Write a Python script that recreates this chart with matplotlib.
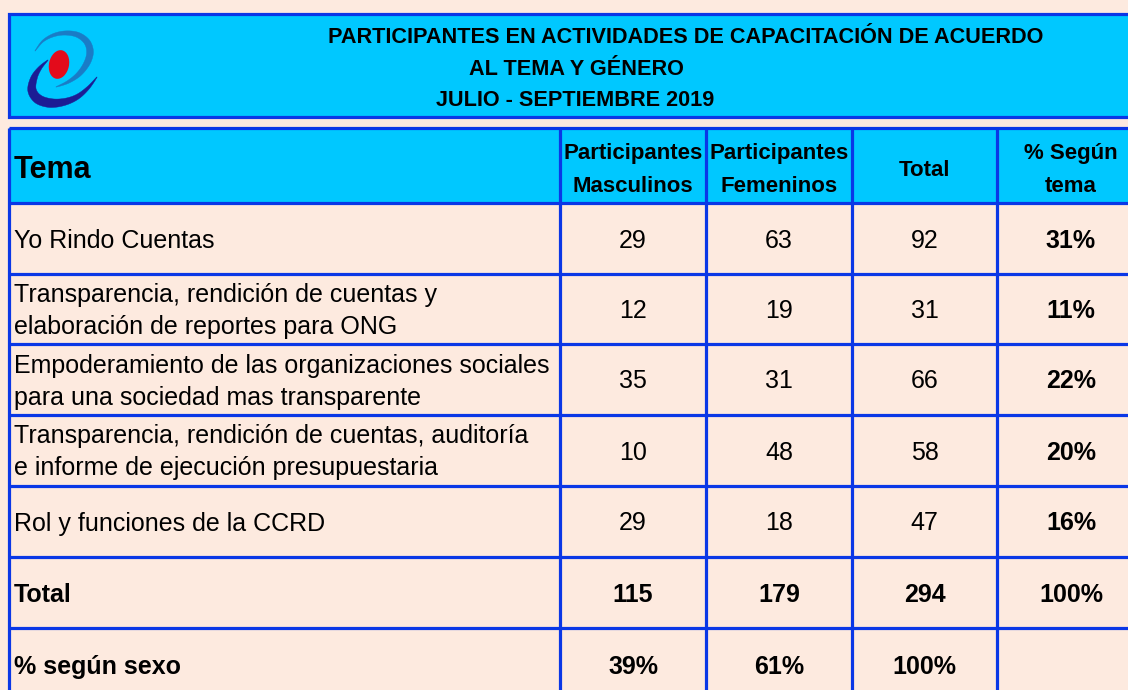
import numpy as np
import matplotlib
matplotlib.use("Agg")
import matplotlib.pyplot as plt
from matplotlib.patches import Rectangle, Polygon, Ellipse

# ---------------- data ----------------
title_lines = ["PARTICIPANTES EN ACTIVIDADES DE CAPACITACIÓN DE ACUERDO",
               "AL TEMA Y GÉNERO",
               "JULIO - SEPTIEMBRE 2019"]
header = ["Tema", "Participantes\nMasculinos", "Participantes\nFemeninos", "Total", "% Según\ntema"]
temas = ["Yo Rindo Cuentas",
         "Transparencia, rendición de cuentas y\nelaboración de reportes para ONG",
         "Empoderamiento de las organizaciones sociales\npara una sociedad mas transparente",
         "Transparencia, rendición de cuentas, auditoría\ne informe de ejecución presupuestaria",
         "Rol y funciones de la CCRD"]
masculinos = [29, 12, 35, 10, 29]
femeninos = [63, 19, 31, 48, 18]
totales = [92, 31, 66, 58, 47]
pct_tema = ["31%", "11%", "22%", "20%", "16%"]
total_label = "Total"
total_row = ["115", "179", "294", "100%"]
sexo_label = "% según sexo"
pct_sexo = ["39%", "61%", "100%", ""]

# ---------------- style ----------------
BG = "#FDEADF"
CYAN = "#00C8FF"
BLUE = "#0A37E6"
REG = ["Liberation Sans", "DejaVu Sans"]

fig = plt.figure(figsize=(11.28, 6.9), dpi=100, facecolor=BG)
ax = fig.add_axes([0, 0, 1, 1])
ax.set_xlim(0, 1128)
ax.set_ylim(690, 0)
ax.axis("off")
ax.set_facecolor(BG)

LW = 2.3
xl, xr = 9, 1145
col_x = [9, 560, 706, 852, 997, 1145]
row_y = [128, 203, 274, 344, 415, 486, 557, 628, 702]

# title box
ax.add_patch(Rectangle((xl, 14), xr - xl, 117 - 14, facecolor=CYAN, edgecolor=BLUE, lw=LW, zorder=1))
# header fill
ax.add_patch(Rectangle((xl, row_y[0]), xr - xl, row_y[1] - row_y[0], facecolor=CYAN, edgecolor="none", zorder=1))
for y in row_y[:-1]:
    ax.plot([xl, xr], [y, y], color=BLUE, lw=LW, solid_capstyle="butt", zorder=3)
for x in col_x[:-1]:
    ax.plot([x, x], [row_y[0], 700], color=BLUE, lw=LW, solid_capstyle="butt", zorder=3)

# ---------------- logo (decorative swoosh) ----------------
def catmull(P, n=20):
    P = np.asarray(P, float)
    P = np.vstack([P[0], P, P[-1]])
    out = []
    for i in range(1, len(P) - 2):
        p0, p1, p2, p3 = P[i - 1], P[i], P[i + 1], P[i + 2]
        t = np.linspace(0, 1, n, endpoint=False)[:, None]
        out.append(0.5 * ((2 * p1) + (-p0 + p2) * t + (2 * p0 - 5 * p1 + 4 * p2 - p3) * t ** 2
                          + (-p0 + 3 * p1 - 3 * p2 + p3) * t ** 3))
    out.append(P[-2][None, :])
    return np.vstack(out)

def stroke(pts, widths, color):
    C = catmull(pts)
    W = np.interp(np.linspace(0, 1, len(C)), np.linspace(0, 1, len(widths)), widths)
    d = np.gradient(C, axis=0)
    d /= np.linalg.norm(d, axis=1)[:, None]
    nrm = np.c_[-d[:, 1], d[:, 0]]
    a = C + nrm * W[:, None] / 2
    b = C - nrm * W[:, None] / 2
    ax.add_patch(Polygon(np.vstack([a, b[::-1]]), closed=True, facecolor=color,
                         edgecolor=color, lw=0.3, zorder=4))

light = [(35, 51), (43, 41), (54, 35), (66, 33), (78, 35), (87, 42), (90, 52),
         (87, 63), (79, 74), (68, 82), (56, 87)]
light_w = [0.3, 1.8, 3.2, 4.2, 5.2, 6.2, 6.8, 6.2, 4.8, 2.8, 0.3]
dark = [(48, 60), (40, 68), (34, 78), (32, 90), (38, 99), (50, 103), (64, 102),
        (77, 97), (88, 88), (97, 77)]
dark_w = [0.3, 3.5, 6.5, 8.5, 9.5, 9.0, 7.0, 5.0, 3.0, 0.3]
stroke(light, light_w, "#1A7CC6")
stroke(dark, dark_w, "#1C1C94")
ax.add_patch(Ellipse((59, 64.5), 20, 29, angle=12, facecolor="#E30B1B", edgecolor="none", zorder=5))

# title text
title_pos = [(686, 43), (576, 75), (575, 106)]
for (x, y), s in zip(title_pos, title_lines):
    ax.text(x, y, s, ha="center", va="baseline", fontsize=15.6, fontweight="bold", family=REG, zorder=6)

def centers(edges):
    return [(a + b) / 2 for a, b in zip(edges[:-1], edges[1:])]

cx = centers(col_x)
cx[4] = 1071
cy = centers(row_y)
LS = 32      # line spacing

def put(x, ycen, s, ha="center", off=9, **kw):
    lines = s.split("\n")
    n = len(lines)
    for i, ln in enumerate(lines):
        yb = ycen + off + (i - (n - 1) / 2) * LS
        ax.text(x, yb, ln, ha=ha, va="baseline", zorder=6, **kw)

# header
put(14, cy[0] + 2, header[0], ha="left", off=10, fontsize=22, fontweight="bold", family=REG)
for j in range(1, 5):
    put(cx[j], cy[0], header[j], off=10, fontsize=16, fontweight="bold", family=REG)

# body
for i in range(len(temas)):
    yc = cy[i + 1]
    put(14, yc, temas[i], ha="left", fontsize=18, family=REG)
    put(cx[1], yc, str(masculinos[i]), fontsize=18, family=REG)
    put(cx[2], yc, str(femeninos[i]), fontsize=18, family=REG)
    put(cx[3], yc, str(totales[i]), fontsize=18, family=REG)
    put(cx[4], yc, pct_tema[i], fontsize=18, fontweight="bold", family=REG)

# total row
put(14, cy[6], total_label, ha="left", fontsize=18, fontweight="bold", family=REG)
for j in range(4):
    put(cx[j + 1], cy[6], total_row[j], fontsize=18, fontweight="bold", family=REG)
put(14, cy[7], sexo_label, ha="left", fontsize=18, fontweight="bold", family=REG)
for j in range(4):
    if pct_sexo[j]:
        put(cx[j + 1], cy[7], pct_sexo[j], fontsize=18, fontweight="bold", family=REG)

fig.savefig("out.png", dpi=100, facecolor=BG)
